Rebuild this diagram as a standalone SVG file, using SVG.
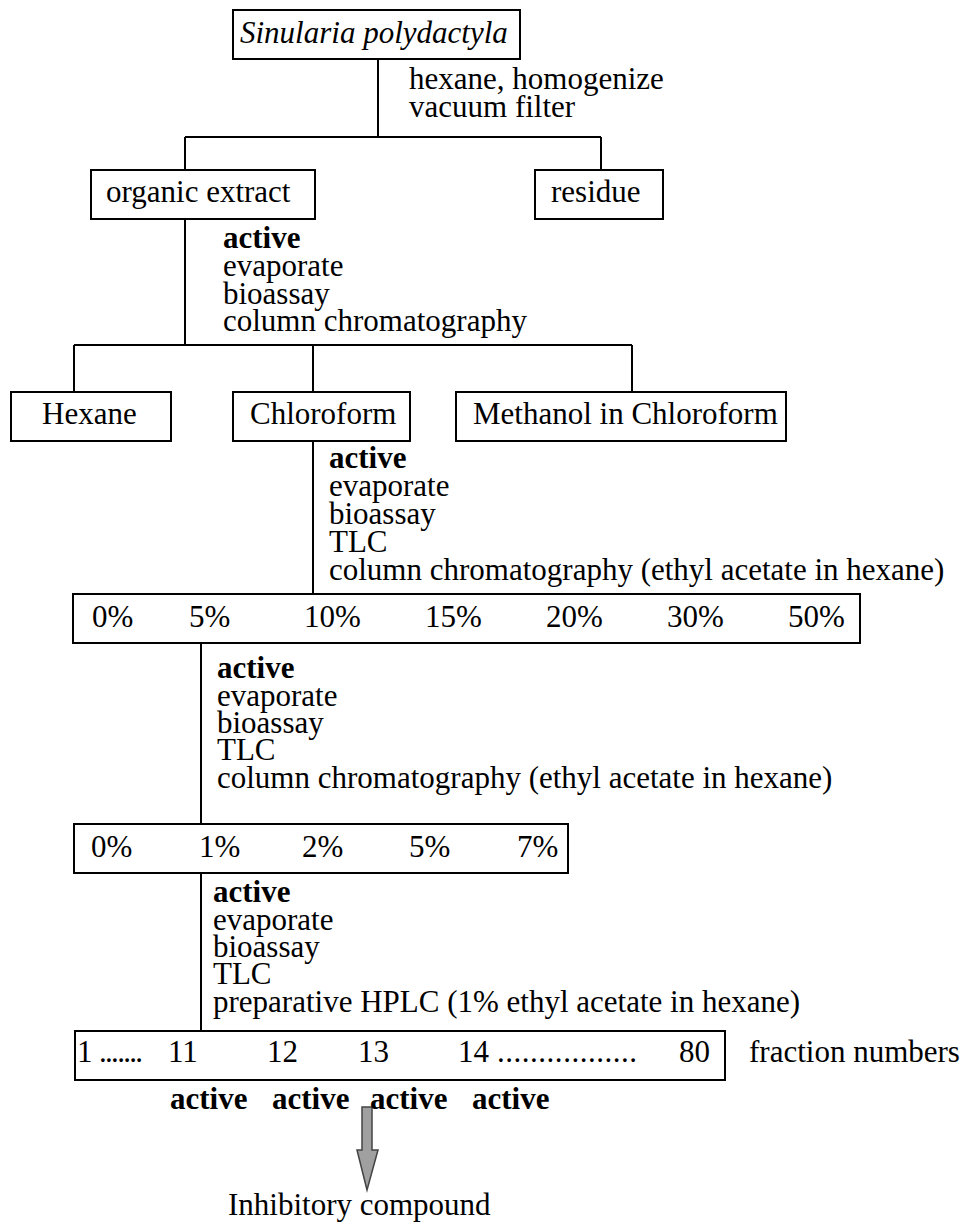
<svg xmlns="http://www.w3.org/2000/svg" width="971" height="1227" viewBox="0 0 971 1227">
<style>
text{font-family:"Liberation Serif","Times New Roman",serif;font-size:31px;fill:#000}
.b{font-weight:bold}
.i{font-style:italic}
.box{fill:#fff;stroke:#000;stroke-width:2}
.ln{stroke:#000;stroke-width:2;fill:none}
</style>
<rect width="971" height="1227" fill="#fff"/>
<g id="connectors">
<path class="ln" d="M378 59V137M185 137H601M185 137V170M601 137V170"/>
<path class="ln" d="M185 219V345M74 345H632M74 345V392M313 345V392M632 345V392"/>
<path class="ln" d="M313 441V594"/>
<path class="ln" d="M201 643V824"/>
<path class="ln" d="M201 873V1031"/>
<path d="M362 1107H372V1150H378L367 1190L357 1150H362Z" fill="#a0a0a0" stroke="#444" stroke-width="1.5"/>
</g>
<g id="n-source"><rect class="box" x="233" y="10" width="287" height="49"/><text class="i" x="240" y="43">Sinularia polydactyla</text></g>
<g id="step1"><text x="409" y="89">hexane, homogenize</text><text x="409" y="117">vacuum filter</text></g>
<g id="n-organic"><rect class="box" x="91" y="170" width="224" height="49"/><text x="106" y="202">organic extract</text></g>
<g id="n-residue"><rect class="box" x="535" y="170" width="128" height="49"/><text x="551" y="202">residue</text></g>
<g id="step2"><text class="b" x="223" y="248">active</text><text x="223" y="276">evaporate</text><text x="223" y="304">bioassay</text><text x="223" y="331">column chromatography</text></g>
<g id="n-hexane"><rect class="box" x="11" y="392" width="160" height="49"/><text x="42" y="424">Hexane</text></g>
<g id="n-chloroform"><rect class="box" x="233" y="392" width="177" height="49"/><text x="250" y="424">Chloroform</text></g>
<g id="n-methanol"><rect class="box" x="456" y="392" width="330" height="49"/><text x="473" y="424">Methanol in Chloroform</text></g>
<g id="step3"><text class="b" x="329" y="468">active</text><text x="329" y="496">evaporate</text><text x="329" y="524">bioassay</text><text x="329" y="552">TLC</text><text x="329" y="580">column chromatography (ethyl acetate in hexane)</text></g>
<g id="n-fractions1"><rect class="box" x="73" y="594" width="787" height="49"/>
<text x="92" y="627">0%</text><text x="189" y="627">5%</text><text x="304" y="627">10%</text><text x="425" y="627">15%</text><text x="546" y="627">20%</text><text x="667" y="627">30%</text><text x="788" y="627">50%</text></g>
<g id="step4"><text class="b" x="217" y="678">active</text><text x="217" y="706">evaporate</text><text x="217" y="733">bioassay</text><text x="217" y="760">TLC</text><text x="217" y="788">column chromatography (ethyl acetate in hexane)</text></g>
<g id="n-fractions2"><rect class="box" x="74" y="824" width="494" height="49"/>
<text x="91" y="857">0%</text><text x="199" y="857">1%</text><text x="302" y="857">2%</text><text x="409" y="857">5%</text><text x="517" y="857">7%</text></g>
<g id="step5"><text class="b" x="213" y="902">active</text><text x="213" y="930">evaporate</text><text x="213" y="957">bioassay</text><text x="213" y="984">TLC</text><text x="213" y="1012">preparative HPLC (1% ethyl acetate in hexane)</text></g>
<g id="n-fractions3"><rect class="box" x="75" y="1031" width="650" height="49"/>
<text x="77" y="1062">1</text><text x="99" y="1062" textLength="44" lengthAdjust="spacing">.......</text><text x="168" y="1062">11</text><text x="267" y="1062">12</text><text x="358" y="1062">13</text><text x="458" y="1062">14</text><text x="497" y="1062" textLength="140" lengthAdjust="spacing">.................</text><text x="679" y="1062">80</text></g>
<text x="749" y="1062">fraction numbers</text>
<g id="actives"><text class="b" x="170" y="1109">active</text><text class="b" x="272" y="1109">active</text><text class="b" x="370" y="1109">active</text><text class="b" x="472" y="1109">active</text></g>
<g id="n-result"><text x="228" y="1215">Inhibitory compound</text></g>
</svg>
